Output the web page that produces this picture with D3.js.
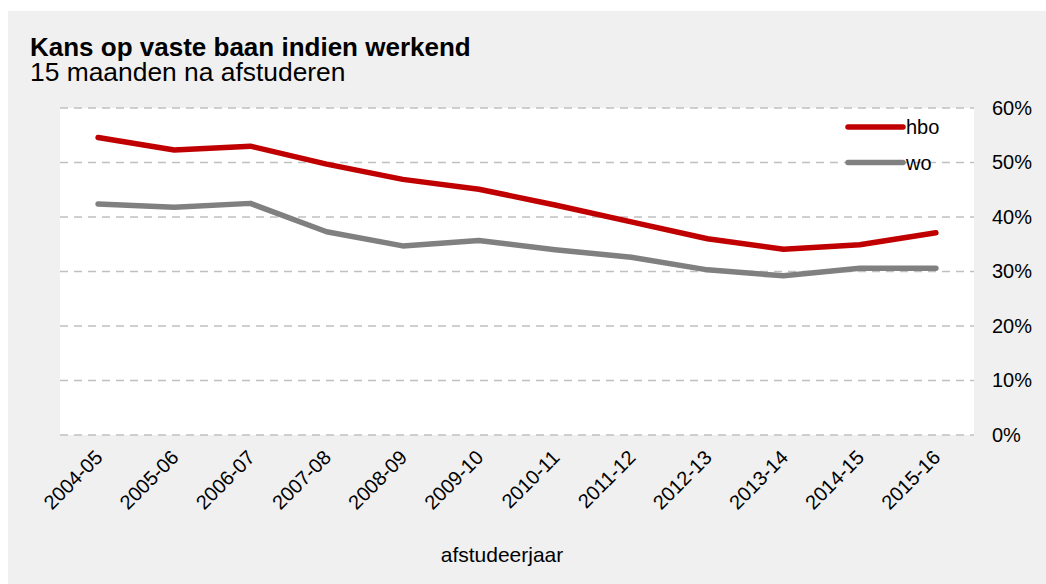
<!DOCTYPE html>
<html><head><meta charset="utf-8">
<script src="https://cdn.jsdelivr.net/npm/d3@7"></script>
<style>
html,body{margin:0;padding:0;background:#fff;}
svg{display:block;font-family:"Liberation Sans",Arial,sans-serif;}
</style></head>
<body>
<svg id="chart" width="1046" height="584"></svg>
<script>
const categories = ["2004-05","2005-06","2006-07","2007-08","2008-09","2009-10","2010-11","2011-12","2012-13","2013-14","2014-15","2015-16"];
const hbo = [54.6, 52.3, 53.0, 49.7, 46.9, 45.1, 42.2, 39.1, 36.0, 34.1, 34.9, 37.1];
const wo  = [42.4, 41.8, 42.5, 37.3, 34.7, 35.7, 34.0, 32.6, 30.3, 29.2, 30.6, 30.6];
const yTicks = [0, 10, 20, 30, 40, 50, 60];
const seriesNames = ["hbo", "wo"];
const seriesColors = ["#c00000", "#808080"];

const svg = d3.select("#chart");
svg.append("rect").attr("x", 8).attr("y", 11).attr("width", 1038).attr("height", 573).attr("fill", "#f0f0f0");

const plot = {left: 60, right: 974, top: 108, bottom: 435};
svg.append("rect").attr("x", plot.left).attr("y", plot.top)
  .attr("width", plot.right - plot.left).attr("height", plot.bottom - plot.top).attr("fill", "#fff");

const x = d3.scaleBand().domain(categories).range([plot.left, plot.right]);
const y = d3.scaleLinear().domain([0, 60]).range([plot.bottom, plot.top]);

// gridlines
svg.append("g").selectAll("line").data(yTicks).join("line")
  .attr("x1", plot.left).attr("x2", plot.right)
  .attr("y1", d => y(d)).attr("y2", d => y(d))
  .attr("stroke", "#c0c0c0").attr("stroke-width", 1.6).attr("stroke-dasharray", "8,6");

// y axis on right
const yAxis = d3.axisRight(y).tickValues(yTicks).tickFormat(d => d + "%").tickSize(0).tickPadding(18);
const gy = svg.append("g").attr("transform", `translate(${plot.right},0)`).call(yAxis);
gy.select(".domain").remove();
gy.selectAll("text").attr("font-size", 20).attr("fill", "#000").attr("font-family", "Liberation Sans, Arial, sans-serif");

// x axis
const xAxis = d3.axisBottom(x).tickSize(0).tickPadding(0);
const gx = svg.append("g").attr("transform", `translate(0,${plot.bottom})`).call(xAxis);
gx.select(".domain").remove();
gx.selectAll("text")
  .attr("font-size", 20).attr("fill", "#000").attr("font-family", "Liberation Sans, Arial, sans-serif")
  .attr("text-anchor", "end")
  .attr("dy", null).attr("y", null)
  .attr("transform", "translate(2,20) rotate(-45)")
  .attr("dominant-baseline", "middle");

// lines
const line = d3.line().x((d, i) => x(categories[i]) + x.bandwidth() / 2).y(d => y(d));
[hbo, wo].forEach((s, k) => {
  svg.append("path").datum(s).attr("d", line)
    .attr("fill", "none").attr("stroke", seriesColors[k]).attr("stroke-width", 5.5)
    .attr("stroke-linecap", "round").attr("stroke-linejoin", "round");
});

// legend
const legend = svg.append("g");
seriesNames.forEach((n, k) => {
  const ly = k === 0 ? 127 : y(50);
  legend.append("line").attr("x1", 848).attr("x2", 903).attr("y1", ly).attr("y2", ly)
    .attr("stroke", seriesColors[k]).attr("stroke-width", 5.5).attr("stroke-linecap", "round");
  legend.append("text").attr("x", 906).attr("y", ly).attr("dy", "0.35em")
    .attr("font-size", 20).attr("fill", "#000").text(n);
});

// titles
svg.append("text").attr("x", 30).attr("y", 56).attr("font-size", 26).attr("font-weight", "bold").attr("fill", "#000")
  .text("Kans op vaste baan indien werkend");
svg.append("text").attr("x", 30).attr("y", 81).attr("font-size", 26.4).attr("fill", "#000")
  .text("15 maanden na afstuderen");
svg.append("text").attr("x", 502).attr("y", 562).attr("font-size", 21).attr("text-anchor", "middle").attr("fill", "#000")
  .text("afstudeerjaar");
</script>
</body></html>
